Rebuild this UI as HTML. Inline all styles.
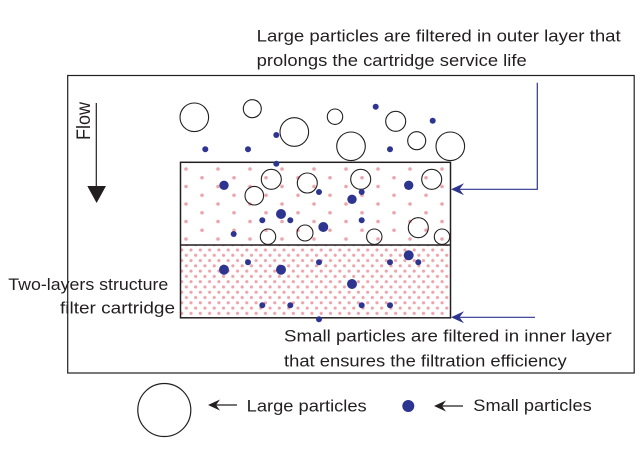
<!DOCTYPE html>
<html>
<head>
<meta charset="utf-8">
<style>
  html, body { margin: 0; padding: 0; background: #ffffff; }
  svg { display: block; }
  text { font-family: "Liberation Sans", "DejaVu Sans", sans-serif; fill: #231f20; }
</style>
</head>
<body>
<svg width="643" height="449" viewBox="0 0 643 449" xmlns="http://www.w3.org/2000/svg">
  <defs>
    <pattern id="pu" patternUnits="userSpaceOnUse" x="178" y="164.625" width="32" height="17.5">
      <circle cx="8" cy="4.375" r="1.8" fill="#eda3ab"/>
      <circle cx="24" cy="13.125" r="1.8" fill="#eda3ab"/>
    </pattern>
    <pattern id="pl" patternUnits="userSpaceOnUse" x="179.375" y="247.36" width="9.3" height="10.56">
      <circle cx="2.325" cy="2.64" r="1.6" fill="#eda3ab"/>
      <circle cx="6.975" cy="7.92" r="1.6" fill="#eda3ab"/>
    </pattern>
  </defs>

  <!-- top text -->
  <text x="256.7" y="41.7" font-size="16.5" textLength="364" lengthAdjust="spacingAndGlyphs">Large particles are filtered in outer layer that</text>
  <text x="256.7" y="66" font-size="16.5" textLength="270" lengthAdjust="spacingAndGlyphs">prolongs the cartridge service life</text>

  <!-- outer box -->
  <rect x="67.7" y="75.5" width="566.5" height="297.5" fill="none" stroke="#231f20" stroke-width="1.2"/>

  <!-- flow -->
  <text transform="translate(90,140) rotate(-90)" font-size="19" textLength="38" lengthAdjust="spacingAndGlyphs">Flow</text>
  <line x1="96.3" y1="103" x2="96.3" y2="188" stroke="#231f20" stroke-width="1.2"/>
  <polygon points="87.3,186 106,186 96.6,203" fill="#231f20"/>

  <!-- inner layers fill -->
  <rect x="181" y="163" width="269" height="82" fill="url(#pu)"/>
  <rect x="181" y="245.5" width="269" height="71.5" fill="url(#pl)"/>

  <!-- large particles above -->
  <g fill="none" stroke="#231f20" stroke-width="1.1">
    <circle cx="194.3" cy="117.3" r="14.3"/>
    <circle cx="252.3" cy="108.7" r="9"/>
    <circle cx="294.3" cy="132" r="14.3"/>
    <circle cx="335" cy="116.7" r="7.7"/>
    <circle cx="351" cy="146.3" r="14.3"/>
    <circle cx="395.7" cy="121.3" r="10"/>
    <circle cx="416.7" cy="140.7" r="9"/>
    <circle cx="450.3" cy="146.3" r="14.3"/>
  </g>

  <!-- large particles in outer layer -->
  <g fill="none" stroke="#231f20" stroke-width="1.1">
    <circle cx="271.3" cy="179.3" r="10"/>
    <circle cx="307.3" cy="183" r="10"/>
    <circle cx="254.3" cy="195.7" r="9.3"/>
    <circle cx="360.7" cy="179.3" r="10"/>
    <circle cx="431.7" cy="179.3" r="10"/>
    <circle cx="418.3" cy="227.7" r="10"/>
    <circle cx="305" cy="233" r="8"/>
    <circle cx="268" cy="236.7" r="7.7"/>
    <circle cx="374.3" cy="236.7" r="7.7"/>
    <circle cx="442" cy="236.7" r="7.7"/>
  </g>

  <!-- inner box -->
  <rect x="180.5" y="162.3" width="270" height="155.5" fill="none" stroke="#231f20" stroke-width="1.5"/>
  <line x1="180.5" y1="245" x2="450.5" y2="245" stroke="#231f20" stroke-width="1.5"/>

  <!-- small particles -->
  <g fill="#2d3590">
    <!-- above -->
    <circle cx="205.3" cy="149.3" r="3"/>
    <circle cx="248" cy="149.3" r="3"/>
    <circle cx="276.3" cy="135" r="3"/>
    <circle cx="375.7" cy="106.7" r="3"/>
    <circle cx="432.7" cy="120.7" r="3"/>
    <circle cx="390" cy="149.3" r="3"/>
    <circle cx="276.3" cy="163.7" r="3"/>
    <!-- outer layer -->
    <circle cx="224" cy="185.3" r="4.7"/>
    <circle cx="408.7" cy="185.3" r="4.7"/>
    <circle cx="352" cy="199.3" r="4.7"/>
    <circle cx="281" cy="214" r="5"/>
    <circle cx="323.3" cy="227" r="5"/>
    <circle cx="319" cy="192" r="3"/>
    <circle cx="361.7" cy="192" r="3"/>
    <circle cx="262.3" cy="220.3" r="3"/>
    <circle cx="290.3" cy="220.3" r="3"/>
    <circle cx="361.7" cy="220.3" r="3"/>
    <circle cx="233.7" cy="234" r="3"/>
    <!-- inner layer -->
    <circle cx="224" cy="269.7" r="5"/>
    <circle cx="281" cy="269.7" r="5"/>
    <circle cx="352" cy="284" r="5"/>
    <circle cx="408.7" cy="255.3" r="5"/>
    <circle cx="248" cy="262.3" r="3"/>
    <circle cx="319" cy="262.3" r="3"/>
    <circle cx="390" cy="262.3" r="3"/>
    <circle cx="418.3" cy="262.3" r="3"/>
    <circle cx="262.3" cy="305.3" r="3"/>
    <circle cx="290.3" cy="305.3" r="3"/>
    <circle cx="361.7" cy="305.3" r="3"/>
    <circle cx="390" cy="305.3" r="3"/>
    <circle cx="319" cy="319.3" r="3"/>
  </g>

  <!-- blue pointers -->
  <g stroke="#2d3590" stroke-width="1.2" fill="none">
    <polyline points="537.3,82.7 537.3,189.3 458,189.3"/>
    <line x1="535" y1="317.3" x2="458" y2="317.3"/>
  </g>
  <g fill="#2d3590">
    <path d="M451,189.3 L464,183.3 L459.5,189.3 L464,195.3 Z"/>
    <path d="M451,317.3 L464,311.3 L459.5,317.3 L464,323.3 Z"/>
  </g>

  <!-- left labels -->
  <text x="8.3" y="290" font-size="16.5" textLength="160" lengthAdjust="spacingAndGlyphs">Two-layers structure</text>
  <text x="60" y="313.3" font-size="16.5" textLength="115" lengthAdjust="spacingAndGlyphs">filter cartridge</text>

  <!-- bottom labels -->
  <text x="284" y="341.7" font-size="16.5" textLength="327.7" lengthAdjust="spacingAndGlyphs">Small particles are filtered in inner layer</text>
  <text x="284" y="366.7" font-size="16.5" textLength="282.7" lengthAdjust="spacingAndGlyphs">that ensures the filtration efficiency</text>

  <!-- legend -->
  <circle cx="164.3" cy="410" r="26.5" fill="none" stroke="#231f20" stroke-width="1.2"/>
  <line x1="214" y1="405" x2="237" y2="405" stroke="#231f20" stroke-width="1.3"/>
  <path d="M208,405 L220,399.5 L216,405 L220,410.5 Z" fill="#231f20"/>
  <text x="246.7" y="411.7" font-size="16.5" textLength="120" lengthAdjust="spacingAndGlyphs">Large particles</text>

  <circle cx="408.3" cy="406" r="6" fill="#2d3590"/>
  <line x1="440" y1="406" x2="463" y2="406" stroke="#231f20" stroke-width="1.3"/>
  <path d="M434,406 L446,400.5 L442,406 L446,411.5 Z" fill="#231f20"/>
  <text x="473.3" y="411" font-size="16.5" textLength="118.4" lengthAdjust="spacingAndGlyphs">Small particles</text>
</svg>
</body>
</html>
